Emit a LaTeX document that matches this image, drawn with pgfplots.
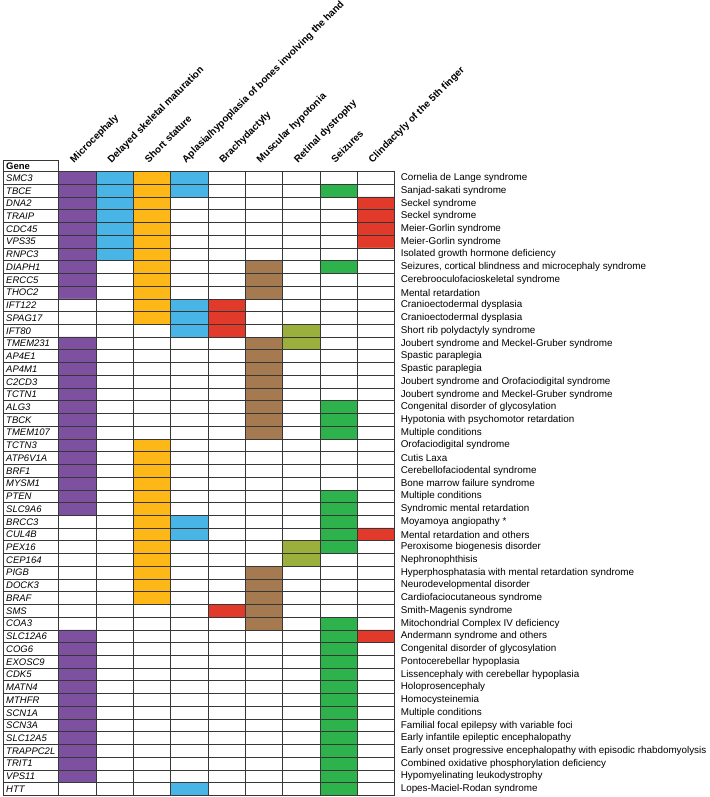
\documentclass[border=0pt]{standalone}
\usepackage{fontspec}
\setmainfont{Liberation Sans}
\usepackage{pgfplots}
\pgfplotsset{compat=1.18}
\definecolor{cpurple}{RGB}{125,80,160}
\definecolor{cblue}{RGB}{72,181,230}
\definecolor{corange}{RGB}{253,183,22}
\definecolor{cred}{RGB}{225,58,42}
\definecolor{cbrown}{RGB}{166,122,80}
\definecolor{colive}{RGB}{155,176,60}
\definecolor{cgreen}{RGB}{46,178,75}
\definecolor{gridc}{RGB}{55,55,55}
\newcommand\lab{\fontsize{9.5}{11}\selectfont}
\newcommand\slab{\fontsize{9.85}{11}\selectfont}
\newcommand\hlab{\fontsize{9.9}{12}\selectfont}
\begin{document}
\begin{tikzpicture}
\begin{axis}[
  scale only axis, width=391.6pt, height=623.8pt,
  xmin=-2, xmax=8.5, ymin=-0.5, ymax=48.5, y dir=reverse,
  clip=false, axis on top,
  axis line style={gridc, line width=0.9pt},
  xtick={-0.5,0.5,...,7.5}, xticklabels={}, xmajorgrids,
  xticklabel style={overlay},
  ytick={0,...,48},
  yticklabel pos=right,
  yticklabels={Cornelia de Lange syndrome,Sanjad-sakati syndrome,Seckel syndrome,Seckel syndrome,Meier-Gorlin syndrome,Meier-Gorlin syndrome,Isolated growth hormone deficiency,{Seizures, cortical blindness and microcephaly syndrome},Cerebrooculofacioskeletal syndrome,Mental retardation,Cranioectodermal dysplasia,Cranioectodermal dysplasia,Short rib polydactyly syndrome,Joubert syndrome and Meckel-Gruber syndrome,Spastic paraplegia,Spastic paraplegia,Joubert syndrome and Orofaciodigital syndrome,Joubert syndrome and Meckel-Gruber syndrome,Congenital disorder of glycosylation,Hypotonia with psychomotor retardation,Multiple conditions,Orofaciodigital syndrome,Cutis Laxa,Cerebellofaciodental syndrome,Bone marrow failure syndrome,Multiple conditions,Syndromic mental retardation,Moyamoya angiopathy *,Mental retardation and others,Peroxisome biogenesis disorder,Nephronophthisis,Hyperphosphatasia with mental retardation syndrome,Neurodevelopmental disorder,Cardiofaciocutaneous syndrome,Smith-Magenis syndrome,Mitochondrial Complex IV deficiency,Andermann syndrome and others,Congenital disorder of glycosylation,Pontocerebellar hypoplasia,Lissencephaly with cerebellar hypoplasia,Holoprosencephaly,Homocysteinemia,Multiple conditions,Familial focal epilepsy with variable foci,Early infantile epileptic encephalopathy,Early onset progressive encephalopathy with episodic rhabdomyolysis,Combined oxidative phosphorylation deficiency,Hypomyelinating leukodystrophy,Lopes-Maciel-Rodan syndrome},
  yticklabel style={anchor=west, font=\slab, inner xsep=0pt, xshift=6pt},
  extra y ticks={0.5,1.5,...,47.5}, extra y tick labels={},
  extra y tick style={grid=major, yticklabel style={overlay}},
  major tick length=0pt,
  major grid style={gridc, line width=0.9pt},
  colormap={cats}{color(0cm)=(white) color(1cm)=(cpurple) color(2cm)=(cblue) color(3cm)=(corange) color(4cm)=(cred) color(5cm)=(cbrown) color(6cm)=(colive) color(7cm)=(cgreen)},
  colormap access=direct,
]
\addplot[matrix plot*, mesh/cols=9, mesh/rows=49, point meta=explicit] coordinates {
(0,0)[1] (1,0)[2] (2,0)[3] (3,0)[2] (4,0)[0] (5,0)[0] (6,0)[0] (7,0)[0] (8,0)[0]

(0,1)[1] (1,1)[2] (2,1)[3] (3,1)[2] (4,1)[0] (5,1)[0] (6,1)[0] (7,1)[7] (8,1)[0]

(0,2)[1] (1,2)[2] (2,2)[3] (3,2)[0] (4,2)[0] (5,2)[0] (6,2)[0] (7,2)[0] (8,2)[4]

(0,3)[1] (1,3)[2] (2,3)[3] (3,3)[0] (4,3)[0] (5,3)[0] (6,3)[0] (7,3)[0] (8,3)[4]

(0,4)[1] (1,4)[2] (2,4)[3] (3,4)[0] (4,4)[0] (5,4)[0] (6,4)[0] (7,4)[0] (8,4)[4]

(0,5)[1] (1,5)[2] (2,5)[3] (3,5)[0] (4,5)[0] (5,5)[0] (6,5)[0] (7,5)[0] (8,5)[4]

(0,6)[1] (1,6)[2] (2,6)[3] (3,6)[0] (4,6)[0] (5,6)[0] (6,6)[0] (7,6)[0] (8,6)[0]

(0,7)[1] (1,7)[0] (2,7)[3] (3,7)[0] (4,7)[0] (5,7)[5] (6,7)[0] (7,7)[7] (8,7)[0]

(0,8)[1] (1,8)[0] (2,8)[3] (3,8)[0] (4,8)[0] (5,8)[5] (6,8)[0] (7,8)[0] (8,8)[0]

(0,9)[1] (1,9)[0] (2,9)[3] (3,9)[0] (4,9)[0] (5,9)[5] (6,9)[0] (7,9)[0] (8,9)[0]

(0,10)[0] (1,10)[0] (2,10)[3] (3,10)[2] (4,10)[4] (5,10)[0] (6,10)[0] (7,10)[0] (8,10)[0]

(0,11)[0] (1,11)[0] (2,11)[3] (3,11)[2] (4,11)[4] (5,11)[0] (6,11)[0] (7,11)[0] (8,11)[0]

(0,12)[0] (1,12)[0] (2,12)[0] (3,12)[2] (4,12)[4] (5,12)[0] (6,12)[6] (7,12)[0] (8,12)[0]

(0,13)[1] (1,13)[0] (2,13)[0] (3,13)[0] (4,13)[0] (5,13)[5] (6,13)[6] (7,13)[0] (8,13)[0]

(0,14)[1] (1,14)[0] (2,14)[0] (3,14)[0] (4,14)[0] (5,14)[5] (6,14)[0] (7,14)[0] (8,14)[0]

(0,15)[1] (1,15)[0] (2,15)[0] (3,15)[0] (4,15)[0] (5,15)[5] (6,15)[0] (7,15)[0] (8,15)[0]

(0,16)[1] (1,16)[0] (2,16)[0] (3,16)[0] (4,16)[0] (5,16)[5] (6,16)[0] (7,16)[0] (8,16)[0]

(0,17)[1] (1,17)[0] (2,17)[0] (3,17)[0] (4,17)[0] (5,17)[5] (6,17)[0] (7,17)[0] (8,17)[0]

(0,18)[1] (1,18)[0] (2,18)[0] (3,18)[0] (4,18)[0] (5,18)[5] (6,18)[0] (7,18)[7] (8,18)[0]

(0,19)[1] (1,19)[0] (2,19)[0] (3,19)[0] (4,19)[0] (5,19)[5] (6,19)[0] (7,19)[7] (8,19)[0]

(0,20)[1] (1,20)[0] (2,20)[0] (3,20)[0] (4,20)[0] (5,20)[5] (6,20)[0] (7,20)[7] (8,20)[0]

(0,21)[1] (1,21)[0] (2,21)[3] (3,21)[0] (4,21)[0] (5,21)[0] (6,21)[0] (7,21)[0] (8,21)[0]

(0,22)[1] (1,22)[0] (2,22)[3] (3,22)[0] (4,22)[0] (5,22)[0] (6,22)[0] (7,22)[0] (8,22)[0]

(0,23)[1] (1,23)[0] (2,23)[3] (3,23)[0] (4,23)[0] (5,23)[0] (6,23)[0] (7,23)[0] (8,23)[0]

(0,24)[1] (1,24)[0] (2,24)[3] (3,24)[0] (4,24)[0] (5,24)[0] (6,24)[0] (7,24)[0] (8,24)[0]

(0,25)[1] (1,25)[0] (2,25)[3] (3,25)[0] (4,25)[0] (5,25)[0] (6,25)[0] (7,25)[7] (8,25)[0]

(0,26)[1] (1,26)[0] (2,26)[3] (3,26)[0] (4,26)[0] (5,26)[0] (6,26)[0] (7,26)[7] (8,26)[0]

(0,27)[0] (1,27)[0] (2,27)[3] (3,27)[2] (4,27)[0] (5,27)[0] (6,27)[0] (7,27)[7] (8,27)[0]

(0,28)[0] (1,28)[0] (2,28)[3] (3,28)[2] (4,28)[0] (5,28)[0] (6,28)[0] (7,28)[7] (8,28)[4]

(0,29)[0] (1,29)[0] (2,29)[3] (3,29)[0] (4,29)[0] (5,29)[0] (6,29)[6] (7,29)[7] (8,29)[0]

(0,30)[0] (1,30)[0] (2,30)[3] (3,30)[0] (4,30)[0] (5,30)[0] (6,30)[6] (7,30)[0] (8,30)[0]

(0,31)[0] (1,31)[0] (2,31)[3] (3,31)[0] (4,31)[0] (5,31)[5] (6,31)[0] (7,31)[0] (8,31)[0]

(0,32)[0] (1,32)[0] (2,32)[3] (3,32)[0] (4,32)[0] (5,32)[5] (6,32)[0] (7,32)[0] (8,32)[0]

(0,33)[0] (1,33)[0] (2,33)[3] (3,33)[0] (4,33)[0] (5,33)[5] (6,33)[0] (7,33)[0] (8,33)[0]

(0,34)[0] (1,34)[0] (2,34)[0] (3,34)[0] (4,34)[4] (5,34)[5] (6,34)[0] (7,34)[0] (8,34)[0]

(0,35)[0] (1,35)[0] (2,35)[0] (3,35)[0] (4,35)[0] (5,35)[5] (6,35)[0] (7,35)[7] (8,35)[0]

(0,36)[1] (1,36)[0] (2,36)[0] (3,36)[0] (4,36)[0] (5,36)[0] (6,36)[0] (7,36)[7] (8,36)[4]

(0,37)[1] (1,37)[0] (2,37)[0] (3,37)[0] (4,37)[0] (5,37)[0] (6,37)[0] (7,37)[7] (8,37)[0]

(0,38)[1] (1,38)[0] (2,38)[0] (3,38)[0] (4,38)[0] (5,38)[0] (6,38)[0] (7,38)[7] (8,38)[0]

(0,39)[1] (1,39)[0] (2,39)[0] (3,39)[0] (4,39)[0] (5,39)[0] (6,39)[0] (7,39)[7] (8,39)[0]

(0,40)[1] (1,40)[0] (2,40)[0] (3,40)[0] (4,40)[0] (5,40)[0] (6,40)[0] (7,40)[7] (8,40)[0]

(0,41)[1] (1,41)[0] (2,41)[0] (3,41)[0] (4,41)[0] (5,41)[0] (6,41)[0] (7,41)[7] (8,41)[0]

(0,42)[1] (1,42)[0] (2,42)[0] (3,42)[0] (4,42)[0] (5,42)[0] (6,42)[0] (7,42)[7] (8,42)[0]

(0,43)[1] (1,43)[0] (2,43)[0] (3,43)[0] (4,43)[0] (5,43)[0] (6,43)[0] (7,43)[7] (8,43)[0]

(0,44)[1] (1,44)[0] (2,44)[0] (3,44)[0] (4,44)[0] (5,44)[0] (6,44)[0] (7,44)[7] (8,44)[0]

(0,45)[1] (1,45)[0] (2,45)[0] (3,45)[0] (4,45)[0] (5,45)[0] (6,45)[0] (7,45)[7] (8,45)[0]

(0,46)[1] (1,46)[0] (2,46)[0] (3,46)[0] (4,46)[0] (5,46)[0] (6,46)[0] (7,46)[7] (8,46)[0]

(0,47)[1] (1,47)[0] (2,47)[0] (3,47)[0] (4,47)[0] (5,47)[0] (6,47)[0] (7,47)[7] (8,47)[0]

(0,48)[0] (1,48)[0] (2,48)[0] (3,48)[2] (4,48)[0] (5,48)[0] (6,48)[0] (7,48)[7] (8,48)[0]
};
\coordinate (TL) at (axis cs:-2,-0.5);
% Gene header box
\draw[gridc, line width=0.9pt] (axis cs:-2,-0.5) rectangle (axis cs:-0.5,-1.42);
\node[anchor=west, font=\lab\bfseries, inner sep=0pt, xshift=3pt] at (axis cs:-2,-0.96) {Gene};
% gene names
\begin{scope}[every node/.style={anchor=west, font=\lab\itshape, inner sep=0pt, xshift=3pt}]
\node at (axis cs:-2,0) {SMC3};
\node at (axis cs:-2,1) {TBCE};
\node at (axis cs:-2,2) {DNA2};
\node at (axis cs:-2,3) {TRAIP};
\node at (axis cs:-2,4) {CDC45};
\node at (axis cs:-2,5) {VPS35};
\node at (axis cs:-2,6) {RNPC3};
\node at (axis cs:-2,7) {DIAPH1};
\node at (axis cs:-2,8) {ERCC5};
\node at (axis cs:-2,9) {THOC2};
\node at (axis cs:-2,10) {IFT122};
\node at (axis cs:-2,11) {SPAG17};
\node at (axis cs:-2,12) {IFT80};
\node at (axis cs:-2,13) {TMEM231};
\node at (axis cs:-2,14) {AP4E1};
\node at (axis cs:-2,15) {AP4M1};
\node at (axis cs:-2,16) {C2CD3};
\node at (axis cs:-2,17) {TCTN1};
\node at (axis cs:-2,18) {ALG3};
\node at (axis cs:-2,19) {TBCK};
\node at (axis cs:-2,20) {TMEM107};
\node at (axis cs:-2,21) {TCTN3};
\node at (axis cs:-2,22) {ATP6V1A};
\node at (axis cs:-2,23) {BRF1};
\node at (axis cs:-2,24) {MYSM1};
\node at (axis cs:-2,25) {PTEN};
\node at (axis cs:-2,26) {SLC9A6};
\node at (axis cs:-2,27) {BRCC3};
\node at (axis cs:-2,28) {CUL4B};
\node at (axis cs:-2,29) {PEX16};
\node at (axis cs:-2,30) {CEP164};
\node at (axis cs:-2,31) {PIGB};
\node at (axis cs:-2,32) {DOCK3};
\node at (axis cs:-2,33) {BRAF};
\node at (axis cs:-2,34) {SMS};
\node at (axis cs:-2,35) {COA3};
\node at (axis cs:-2,36) {SLC12A6};
\node at (axis cs:-2,37) {COG6};
\node at (axis cs:-2,38) {EXOSC9};
\node at (axis cs:-2,39) {CDK5};
\node at (axis cs:-2,40) {MATN4};
\node at (axis cs:-2,41) {MTHFR};
\node at (axis cs:-2,42) {SCN1A};
\node at (axis cs:-2,43) {SCN3A};
\node at (axis cs:-2,44) {SLC12A5};
\node at (axis cs:-2,45) {TRAPPC2L};
\node at (axis cs:-2,46) {TRIT1};
\node at (axis cs:-2,47) {VPS11};
\node at (axis cs:-2,48) {HTT};
\end{scope}
% column headers
\begin{scope}[every node/.style={anchor=base west, rotate=45, font=\hlab\bfseries, inner sep=0pt}]
\node at ([xshift=-3.5pt,yshift=8.5pt]axis cs:0,-0.5) {Microcephaly};
\node at ([xshift=-3.5pt,yshift=8.5pt]axis cs:1,-0.5) {Delayed skeletal maturation};
\node at ([xshift=-3.5pt,yshift=8.5pt]axis cs:2,-0.5) {Short stature};
\node at ([xshift=-3.5pt,yshift=8.5pt]axis cs:3,-0.5) {Aplasia/hypoplasia of bones involving the hand};
\node at ([xshift=-3.5pt,yshift=8.5pt]axis cs:4,-0.5) {Brachydactyly};
\node at ([xshift=-3.5pt,yshift=8.5pt]axis cs:5,-0.5) {Muscular hypotonia};
\node at ([xshift=-3.5pt,yshift=8.5pt]axis cs:6,-0.5) {Retinal dystrophy};
\node at ([xshift=-3.5pt,yshift=8.5pt]axis cs:7,-0.5) {Seizures};
\node at ([xshift=-3.5pt,yshift=8.5pt]axis cs:8,-0.5) {Clindactyly of the 5th finger};
\end{scope}
\end{axis}
\pgfresetboundingbox
\path[use as bounding box] ([xshift=-3pt,yshift=171.7pt]TL) rectangle ([xshift=706pt,yshift=-625.3pt]TL);
\end{tikzpicture}
\end{document}
